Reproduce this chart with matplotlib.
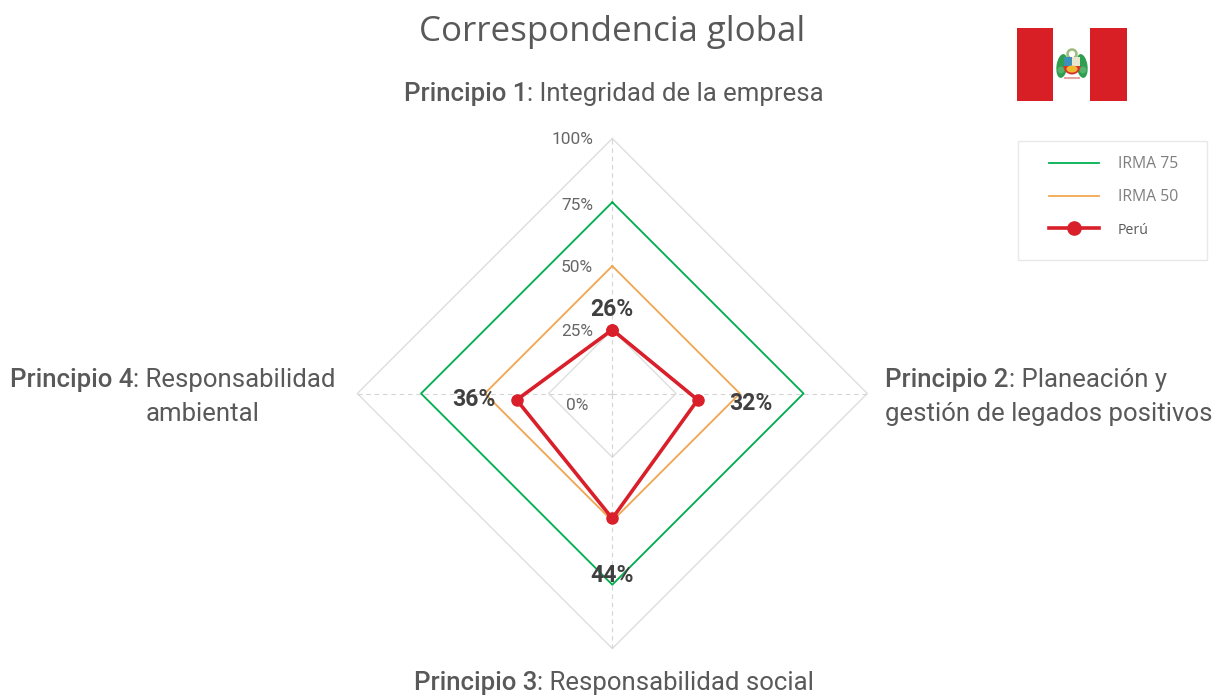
import numpy as np
import matplotlib
matplotlib.use("Agg")
import matplotlib.pyplot as plt
from matplotlib.patches import Rectangle, Ellipse, Circle, Wedge

# -----------------------------
# DATA
# -----------------------------
rings = [25, 50, 75, 100]
ring_labels = ["100%", "75%", "50%", "25%"]
irma75 = [75, 75, 75, 75]
irma50 = [50, 50, 50, 50]
# Peru marks sit a bit off the axes in the original, so x and y are read separately
peru_x = [0, 33.5, 0, -37.5]
peru_y = [25, -2.5, -49, -2.5]
peru_labels = ["26%", "32%", "44%", "36%"]
spoke_x = [0, 1, 0, -1]
spoke_y = [1, 0, -1, 0]

# -----------------------------
# PIXEL HELPERS
# -----------------------------
W, H = 1218, 696
CX, CY, SCALE = 612.3, 393.5, 2.55


def px(x):
    return (x - CX) / SCALE


def py(y):
    return (CY - y) / SCALE


plt.rcParams["font.family"] = ["Roboto", "DejaVu Sans"]
fig = plt.figure(figsize=(W / 100, H / 100), dpi=100)
ax = fig.add_axes([0, 0, 1, 1])
ax.set_xlim(px(0), px(W))
ax.set_ylim(py(H), py(0))
ax.axis("off")


def closed(vals, dirs):
    arr = np.array(vals, dtype=float) * np.array(dirs)
    return np.append(arr, arr[0])


# -----------------------------
# GRID
# -----------------------------
for r in rings:
    ax.plot(closed([r] * 4, spoke_x), closed([r] * 4, spoke_y), color="#dedede", lw=1.0, zorder=1)
for sx, sy in zip(spoke_x, spoke_y):
    ax.plot([0, 100 * sx], [0, 100 * sy], color="#d4d4d4", lw=0.8, ls=(0, (4, 3.5)), zorder=1)

# -----------------------------
# SERIES
# -----------------------------
ax.plot(closed(irma75, spoke_x), closed(irma75, spoke_y), color="#00b050", lw=1.3, zorder=2, label="IRMA 75")
ax.plot(closed(irma50, spoke_x), closed(irma50, spoke_y), color="#f2a851", lw=1.3, zorder=2, label="IRMA 50")
ax.plot(peru_x + peru_x[:1], peru_y + peru_y[:1], color="#d91f2a", lw=2.6, marker="o", ms=8,
        zorder=3, label="Perú", solid_joinstyle="miter")

# -----------------------------
# TEXT
# -----------------------------
ax.text(px(612), py(32), "Correspondencia global", family="Open Sans", fontsize=25.1, color="#595959",
        ha="center", va="center")

tick_y = [140, 205, 268, 332]
for lab, y in zip(ring_labels, tick_y):
    ax.text(px(593), py(y), lab, fontsize=12.4, color="#666666", ha="right", va="center")
ax.text(px(588), py(405), "0%", fontsize=12.4, color="#666666", ha="right", va="center")

val_pos = [(612, 309), (751, 404), (612, 575), (474, 399)]
for lab, (x, y) in zip(peru_labels, val_pos):
    ax.text(px(x), py(y), lab, fontsize=16.6, fontweight="bold", color="#404040", ha="center", va="center", zorder=5)


def two_part(x, y, head, rest, size=18.5):
    t = ax.text(px(x), py(y), head, fontsize=size, fontweight="medium", color="#595959", va="center")
    fig.canvas.draw()
    end = t.get_window_extent().x1
    ax.text(px(end), py(y), rest, fontsize=size, color="#595959", va="center")


two_part(404, 94, "Principio 1", ": Integridad de la empresa")
two_part(885, 380, "Principio 2", ": Planeación y")
ax.text(px(885), py(414), "gestión de legados positivos", fontsize=18.5, color="#595959", va="center")
two_part(414, 683, "Principio 3", ": Responsabilidad social")
two_part(10, 380, "Principio 4", ": Responsabilidad")
ax.text(px(146), py(414), "ambiental", fontsize=18.5, color="#595959", va="center")

# -----------------------------
# LEGEND
# -----------------------------
ax.add_patch(Rectangle((px(1017.5), py(260)), 189.5 / SCALE, 119 / SCALE, fc="white", ec="#e8e8e8", lw=1, zorder=4))
leg = ax.legend(loc="upper left", bbox_to_anchor=(1049 / W, 1 - 156 / H), frameon=False, borderpad=0,
                borderaxespad=0, handlelength=3.2, handletextpad=1.2, labelspacing=1.1,
                prop={"family": "Open Sans", "size": 11.3}, labelcolor="#7f7f7f")
leg.set_zorder(6)
leg.get_lines()[2].set_markersize(9.5)
leg.get_texts()[2].set_color("#595959")
leg.get_texts()[2].set_fontsize(10.2)

# -----------------------------
# FLAG
# -----------------------------
red = "#d91f26"
ax.add_patch(Rectangle((px(1017), py(101)), 36 / SCALE, 73 / SCALE, fc=red, ec="none"))
ax.add_patch(Rectangle((px(1090), py(101)), 37 / SCALE, 73 / SCALE, fc=red, ec="none"))

# coat of arms, drawn roughly
ex, ey = px(1072), py(65)
u = 1 / SCALE
ax.add_patch(Circle((ex, py(54)), 4.5 * u, fc="none", ec="#9dbb7a", lw=1.8))
for sgn in (-1, 1):
    ax.add_patch(Ellipse((ex + sgn * 10 * u, ey - 1 * u), 11 * u, 24 * u, angle=sgn * 8, fc="#2e9e4f", ec="none"))
    ax.add_patch(Ellipse((ex + sgn * 11 * u, ey - 5 * u), 7 * u, 7 * u, fc="#55b26d", ec="none"))
ax.add_patch(Rectangle((ex - 8 * u, ey - 1 * u), 8 * u, 9 * u, fc="#3b8fb8", ec="none"))
ax.add_patch(Rectangle((ex, ey - 1 * u), 8 * u, 9 * u, fc="#e8e6cf", ec="none"))
ax.add_patch(Wedge((ex, ey - 1 * u), 8.5 * u, 180, 360, fc="#d9332a", ec="none"))
ax.add_patch(Ellipse((ex, ey - 4 * u), 11 * u, 7 * u, fc="#eeb92f", ec="none"))
ax.add_patch(Rectangle((ex - 8 * u, ey - 14 * u), 16 * u, 2 * u, fc="#e8a5a0", ec="none"))

fig.savefig("out.png", dpi=100)
